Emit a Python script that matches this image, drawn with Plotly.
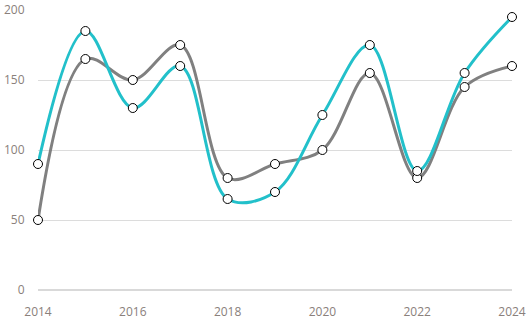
import plotly.graph_objects as go

years = [2014, 2015, 2016, 2017, 2018, 2019, 2020, 2021, 2022, 2023, 2024]
series_cyan = [90, 185, 130, 160, 65, 70, 125, 175, 85, 155, 195]
series_gray = [50, 165, 150, 175, 80, 90, 100, 155, 80, 145, 160]
x_ticks = [2014, 2016, 2018, 2020, 2022, 2024]
y_ticks = [0, 50, 100, 150, 200]

fig = go.Figure()
for vals, col in [(series_gray, "#808080"), (series_cyan, "#22C0CA")]:
    fig.add_trace(go.Scatter(
        x=years, y=vals, mode="lines+markers",
        line=dict(color=col, width=3, shape="spline", smoothing=1),
        marker=dict(size=9, color="white", line=dict(color="black", width=1)),
        showlegend=False, cliponaxis=False,
    ))

font_col = "#8a807b"
fig.update_layout(
    width=531, height=322,
    margin=dict(l=38, r=19, t=10, b=32, autoexpand=False),
    plot_bgcolor="white", paper_bgcolor="white",
    font=dict(family="Open Sans, DejaVu Sans, sans-serif", size=12, color=font_col),
    xaxis=dict(range=[2014, 2024], tickvals=x_ticks, showgrid=False, zeroline=False,
               showline=False, ticks="outside", ticklen=11, tickcolor="rgba(0,0,0,0)",
               automargin=False, tickfont=dict(color=font_col, size=12)),
    yaxis=dict(range=[0, 200], tickvals=y_ticks, showgrid=True, gridcolor="#dcdcdc",
               gridwidth=1, zeroline=True, zerolinecolor="#d9d9d9", zerolinewidth=2,
               showline=False, ticks="outside", ticklen=10, tickcolor="rgba(0,0,0,0)",
               automargin=False, tickfont=dict(color=font_col, size=12)),
)
fig.write_html("out.html")
